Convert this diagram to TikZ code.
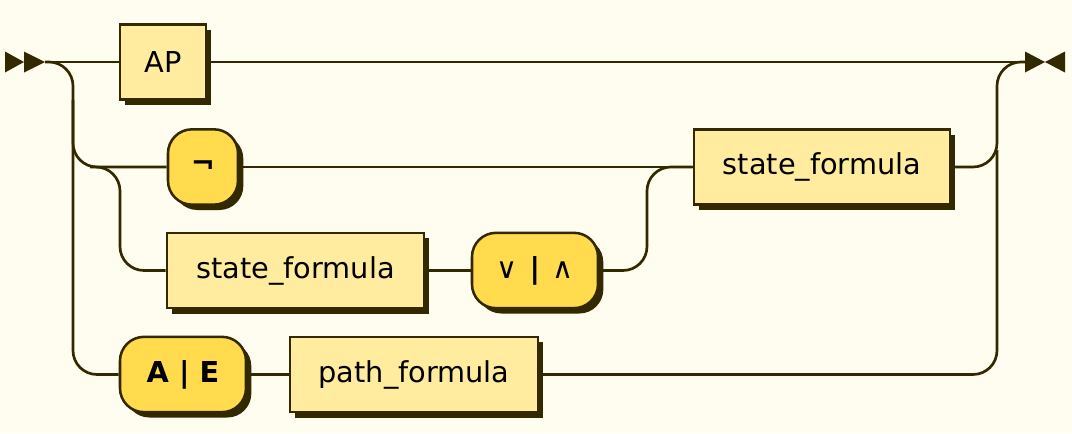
\documentclass[tikz,border=0pt]{standalone}
\usepackage{fontspec}
\setmainfont{DejaVu Sans}
\usetikzlibrary{shadows}
\definecolor{bg}{HTML}{FFFCF0}
\definecolor{rail}{HTML}{332900}
\definecolor{nt}{HTML}{FFEC9E}
\definecolor{tm}{HTML}{FFDB4D}
\begin{document}
\begin{tikzpicture}[x=0.75pt,y=-0.75pt,
  railline/.style={draw=rail, line width=2pt, rounded corners=18pt},
  boxbase/.style={draw=rail, line width=1.9pt, inner sep=0pt, minimum height=56.5pt,
    text=black, font=\fontsize{21.6}{25}\selectfont,
    drop shadow={shadow xshift=4pt, shadow yshift=-4pt, fill=rail, opacity=1}},
  ntbox/.style={boxbase, rectangle, fill=nt},
  tmbox/.style={boxbase, rectangle, rounded corners=18pt, fill=tm},
  marker/.style={fill=rail},
]
\useasboundingbox (0,0) rectangle (1072,433);
\fill[bg] (0,0) rectangle (1072,433);

% start / end markers
\fill[marker] (5,51.5) -- (24,62) -- (5,72.5) -- cycle;
\fill[marker] (24,51.5) -- (45,62) -- (24,72.5) -- cycle;
\fill[marker] (1025,51.5) -- (1045,62) -- (1025,72.5) -- cycle;
\fill[marker] (1065,51.5) -- (1045,62) -- (1065,72.5) -- cycle;
\coordinate (start) at (45,62);
\coordinate (end) at (1025,62);

% rail points
\coordinate (L1) at (73,62);
\coordinate (L2) at (73,167);
\coordinate (L4) at (73,374.5);
\coordinate (Lmid) at (73,100);
\coordinate (B2) at (90,167);
\coordinate (B2c) at (120,167);
\coordinate (B3) at (120,270.5);
\coordinate (M3) at (647,270.5);
\coordinate (M2) at (647,167);
\coordinate (R1) at (997,62);
\coordinate (R2) at (997,167);
\coordinate (R4) at (997,374.5);
\coordinate (Rmid) at (997,150);

% nodes
\node[ntbox, minimum width=64.5pt] (AP) at (163,62) {AP};
\node[tmbox, minimum width=52.5pt] (neg) at (203,167) {\raisebox{-2.5pt}{\bfseries ¬}};
\node[ntbox, minimum width=192pt] (sf2) at (822,167) {state\_formula\hspace{7pt}};
\node[ntbox, minimum width=192.75pt] (sf3) at (295.5,270.5) {state\_formula\hspace{7pt}};
\node[tmbox, minimum width=94.5pt] (op) at (535,270.5) {∨\hspace{2pt} {\bfseries |} \hspace{2pt}∧};
\node[tmbox, minimum width=94.5pt] (AE) at (183,374.5) {\bfseries A | E\hspace{2pt}};
\node[ntbox, minimum width=186pt] (pf) at (414,374.5) {path\_formula\hspace{5pt}};

% connectors
\draw[railline] (start) -- (AP.west);
\draw[railline] (AP.east) -- (end);
\draw[railline] (start) -- (L1) -- (L4) -- (AE.west);
\draw[railline] (Lmid) -- (L2) -- (neg.west);
\draw[railline] (B2) -- (B2c) -- (B3) -- (sf3.west);
\draw[railline] (sf3.east) -- (op.west);
\draw[railline] (op.east) -- (M3) -- (M2) -- (sf2.west);
\draw[railline] (neg.east) -- (sf2.west);
\draw[railline] (sf2.east) -- (R2) -- (R1) -- (end);
\draw[railline] (pf.east) -- (R4) -- (Rmid);
\draw[railline] (AE.east) -- (pf.west);
\end{tikzpicture}
\end{document}
